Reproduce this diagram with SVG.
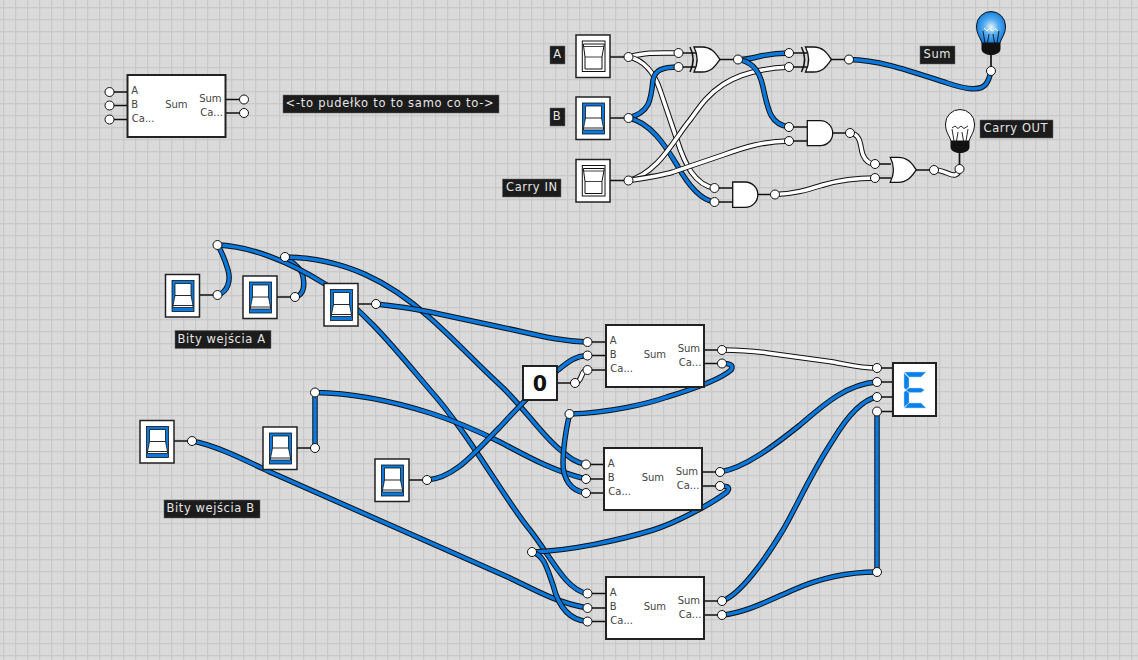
<svg xmlns="http://www.w3.org/2000/svg" width="1138" height="660" viewBox="0 0 1138 660">
<style>
text{font-family:"DejaVu Sans",sans-serif}
.lbl{fill:#e6e6e6;font-size:11.500px;letter-spacing:.6px}
.lb{fill:#1c1c1c;stroke:#666;stroke-width:.5}
.box{fill:#fff;stroke:#222;stroke-width:2}
.t{fill:#444;font-size:10px}
.w{fill:none;stroke-width:5.500;stroke:#111}
.b{fill:none;stroke-width:3.500;stroke:#0a78dc}
.g{fill:none;stroke-width:3.500;stroke:#fff}
.s{stroke:#111;stroke-width:1.700;fill:none}
.p{fill:#fff;stroke:#111;stroke-width:1}
.sw{fill:#fff;stroke:#222;stroke-width:1.500}
.gate{fill:#fff;stroke:#111;stroke-width:1.300}
.seg{fill:#0a80ea;stroke:#a8d2f5;stroke-width:.5}
</style>
<defs>
<pattern id="grid" x="3" y="7" width="12" height="12" patternUnits="userSpaceOnUse"><rect width="12" height="12" fill="#dadada"/><rect width="1.300" height="12" fill="#c9c9c9"/><rect width="12" height="1.300" fill="#c9c9c9"/></pattern>
<radialGradient id="glow" cx=".5" cy=".5" r=".55"><stop offset="0" stop-color="#e8f4ff"/><stop offset=".45" stop-color="#5aaef0"/><stop offset="1" stop-color="#0a78dc"/></radialGradient>
<g id="on"><rect width="34" height="42.500" class="sw"/><rect x="6.500" y="6" width="22" height="31" fill="#0a78dc" stroke="#111" stroke-width=".8"/><path d="M9.500 9H25.500V21L27.500 31V33H7.500V31L9.500 21Z" fill="#fff" stroke="#111" stroke-width=".8"/><path d="M9.500 21H25.500M7.500 31H27.500" stroke="#111" stroke-width=".9"/></g>
<g id="off"><rect width="34" height="42.500" class="sw"/><rect x="6.300" y="6" width="22.700" height="30.500" fill="#fff" stroke="#111" stroke-width="1"/><path d="M7.300 9H28.300L26 22V34H9V22Z" fill="#fff" stroke="#111" stroke-width="1"/><path d="M7.800 11.500H27.800M9 22H26" stroke="#111" stroke-width=".8"/></g>
<path id="xor" d="M4 0H12C22 0 26 7 30 12.500C26 18 22 25 12 25H4C8 17 8 8 4 0Z"/>
<path id="glass" d="M-9 17C-11 11 -14.500 8 -14.500 0A14.500 14.500 0 0 1 14.500 0C14.500 8 11 11 9 17Z" stroke="#111" stroke-width="1"/>
<path id="cap" d="M-9.500 17H9.500V23C9.500 27 4 29 0 29C-4 29 -9.500 27 -9.500 23Z" fill="#111"/>
<path id="fil" d="M-6 17L-8 5M-3.500 17L-2 8M3.500 17L2 8M6 17L8 5" stroke="#111" stroke-width=".9" fill="none"/>
<g id="add"><rect width="98" height="62" class="box"/><text x="3.700" y="19" class="t">A</text><text x="3.700" y="33" class="t">B</text><text x="4.300" y="47" class="t">Ca...</text><text x="37.700" y="32.700" class="t">Sum</text><text x="71.700" y="26.700" class="t">Sum</text><text x="72.700" y="40.700" class="t">Ca...</text></g>
</defs>
<rect width="1138" height="660" fill="url(#grid)"/>
<g id="connectors">
<g id="stubs" class="s">
<path d="M610 57H629M610 118H629M610 180.500H629M679 53H696M679 67H696M720 59.500H738M789 53H807M789 67H807M831 59.500H849M789 127H808M789 141H808M833 133H850M875 164H891M875 178H891M916 170H934M959.500 138V169M991 50V71M714.500 188H734M714.500 202H734M757 194.500H775"/>
<path d="M109.500 92H127M109.500 105.500H127M109.500 119.500H127M226 99.500H244M226 113H244"/>
<path d="M200 295H217.500M277 297H295M358 304H376M174 441H192M297 448H315M409 480H427"/>
<path d="M587.500 342H606M587.500 355.500H606M587.500 370H606M704 350H722M704 363.500H722M557 383H575"/>
<path d="M586 464.500H604M586 479H604M586 493H604M702 472H720M702 486H720"/>
<path d="M587.500 593.500H606M587.500 608H606M587.500 621.500H606M704 601H722M704 615H722"/>
<path d="M877 368H893M877 382H893M877 397H893M877 411.500H893"/>
</g>
<path class="w" d="M628.500 57C650 52 655 53 678.500 53"/><path class="g" d="M628.500 57C650 52 655 53 678.500 53"/>
<path class="w" d="M628.500 57C645 60 655 75 660 90L677 140C685 165 695 185 714.500 188"/><path class="g" d="M628.500 57C645 60 655 75 660 90L677 140C685 165 695 185 714.500 188"/>
<path class="w" d="M628.500 118C650 112 651 100 653 80C655 70 662 67 678.500 67"/><path class="b" d="M628.500 118C650 112 651 100 653 80C655 70 662 67 678.500 67"/>
<path class="w" d="M628.500 118C650 122 665 145 677 165C688 185 700 200 714.500 202"/><path class="b" d="M628.500 118C650 122 665 145 677 165C688 185 700 200 714.500 202"/>
<path class="w" d="M628.500 180.500C640 178 650 170 657 163C670 150 680 132 690 120C705 100 720 70 789 67"/><path class="g" d="M628.500 180.500C640 178 650 170 657 163C670 150 680 132 690 120C705 100 720 70 789 67"/>
<path class="w" d="M628.500 180.500C645 178 660 176 673 172L723 155C745 147 765 141 789 141"/><path class="g" d="M628.500 180.500C645 178 660 176 673 172L723 155C745 147 765 141 789 141"/>
<path class="w" d="M738 59.500C755 60 760 53 789 53"/><path class="b" d="M738 59.500C755 60 760 53 789 53"/>
<path class="w" d="M738 59.500C750 61 759 68 763 87C768 110 770 124 789 127"/><path class="b" d="M738 59.500C750 61 759 68 763 87C768 110 770 124 789 127"/>
<path class="w" d="M849 59.500C880 60 910 71 947 83C965 89 980 92 986 84C989 80 990 76 991 71"/><path class="b" d="M849 59.500C880 60 910 71 947 83C965 89 980 92 986 84C989 80 990 76 991 71"/>
<path class="w" d="M850 133C862 134 860 148 863 155C866 162 870 164 875 164"/><path class="g" d="M850 133C862 134 860 148 863 155C866 162 870 164 875 164"/>
<path class="w" d="M775 194.500C795 194 810 189 823 185C840 180 860 178 875 178"/><path class="g" d="M775 194.500C795 194 810 189 823 185C840 180 860 178 875 178"/>
<path class="w" d="M934 170C945 170 950 176 955 175C958 174 959 172 959.500 169"/><path class="g" d="M934 170C945 170 950 176 955 175C958 174 959 172 959.500 169"/>
<path class="w" d="M217.500 295C228 292 231 280 228 270C225 260 222 252 217.500 245"/><path class="b" d="M217.500 295C228 292 231 280 228 270C225 260 222 252 217.500 245"/>
<path class="w" d="M295 297C305 295 305 283 302 273C299 266 292 262 285 257"/><path class="b" d="M295 297C305 295 305 283 302 273C299 266 292 262 285 257"/>
<path class="w" d="M217.500 245C250 246 290 262 325 284C365 310 400 355 430 390C470 435 505 500 530 530C550 555 565 590 587.500 593.500"/><path class="b" d="M217.500 245C250 246 290 262 325 284C365 310 400 355 430 390C470 435 505 500 530 530C550 555 565 590 587.500 593.500"/>
<path class="w" d="M285 257C345 258 390 282 430 318C455 340 475 362 500 385C525 408 545 440 563 452C570 458 575 462 586 464.500"/><path class="b" d="M285 257C345 258 390 282 430 318C455 340 475 362 500 385C525 408 545 440 563 452C570 458 575 462 586 464.500"/>
<path class="w" d="M376 304C395 306 415 309 430 312L500 327C530 333 555 341 587.500 342"/><path class="b" d="M376 304C395 306 415 309 430 312L500 327C530 333 555 341 587.500 342"/>
<path class="w" d="M192 441C215 445 245 460 270 472L510 578C535 590 555 602 587.500 608"/><path class="b" d="M192 441C215 445 245 460 270 472L510 578C535 590 555 602 587.500 608"/>
<path class="w" d="M315 448V392.500"/><path class="b" d="M315 448V392.500"/>
<path class="w" d="M315 392.500C355 393 395 402 430 413C455 421 480 432 500 442C525 455 550 470 586 479"/><path class="b" d="M315 392.500C355 393 395 402 430 413C455 421 480 432 500 442C525 455 550 470 586 479"/>
<path class="w" d="M427 480C455 478 475 452 500 427C520 405 540 385 558 370C568 362 575 356 587.500 355.500"/><path class="b" d="M427 480C455 478 475 452 500 427C520 405 540 385 558 370C568 362 575 356 587.500 355.500"/>
<path class="w" d="M575 383C583 382 580 370 587.500 370"/><path class="g" d="M575 383C583 382 580 370 587.500 370"/>
<path class="w" d="M569.500 414C610 413 650 403 667 397C690 390 720 380 731 370C734 365 730 363 722 363.500"/><path class="b" d="M569.500 414C610 413 650 403 667 397C690 390 720 380 731 370C734 365 730 363 722 363.500"/>
<path class="w" d="M569.500 414C566 430 563 448 563 463C563 478 570 491 586 493"/><path class="b" d="M569.500 414C566 430 563 448 563 463C563 478 570 491 586 493"/>
<path class="w" d="M532 552C570 551 620 540 653 530C675 523 710 505 727 492C731 487 727 486 720 486"/><path class="b" d="M532 552C570 551 620 540 653 530C675 523 710 505 727 492C731 487 727 486 720 486"/>
<path class="w" d="M532 552C545 555 548 572 553 585C558 605 568 620 587.500 621.500"/><path class="b" d="M532 552C545 555 548 572 553 585C558 605 568 620 587.500 621.500"/>
<path class="w" d="M722 350C740 350 760 352 767 353L833 362C850 365 860 368 877 368"/><path class="g" d="M722 350C740 350 760 352 767 353L833 362C850 365 860 368 877 368"/>
<path class="w" d="M720 472C745 468 775 445 800 425C820 408 845 384 877 382"/><path class="b" d="M720 472C745 468 775 445 800 425C820 408 845 384 877 382"/>
<path class="w" d="M722 601C740 595 765 560 783 530C795 510 810 475 833 440C845 420 860 400 877 397"/><path class="b" d="M722 601C740 595 765 560 783 530C795 510 810 475 833 440C845 420 860 400 877 397"/>
<path class="w" d="M722 615C745 613 770 600 793 590C820 578 850 572 877 572"/><path class="b" d="M722 615C745 613 770 600 793 590C820 578 850 572 877 572"/>
<path class="w" d="M877 572V411.500"/><path class="b" d="M877 572V411.500"/>
</g>
<g id="sw-a"><use href="#off" x="576" y="35"/></g>
<g id="sw-b"><use href="#on" x="576" y="97"/></g>
<g id="sw-c"><use href="#off" x="576" y="159.500"/></g>
<g id="sw1"><use href="#on" x="165.500" y="274.500"/></g>
<g id="sw2"><use href="#on" x="243" y="276"/></g>
<g id="sw3"><use href="#on" x="324" y="283.500"/></g>
<g id="sw4"><use href="#on" x="140" y="420.500"/></g>
<g id="sw5"><use href="#on" x="263" y="427"/></g>
<g id="sw6"><use href="#on" x="375" y="459"/></g>
<g id="xor1" class="gate"><use href="#xor" x="690" y="47"/><path d="M690 47C694 55 694 64 690 72" fill="none" stroke="#111" stroke-width="1.500"/></g>
<g id="xor2" class="gate"><use href="#xor" x="801.500" y="47"/><path d="M801.500 47C805.500 55 805.500 64 801.500 72" fill="none" stroke="#111" stroke-width="1.500"/></g>
<g id="and1" class="gate"><path d="M807.300 120.700H820.200A12.500 12.500 0 0 1 820.200 145.700H807.300Z"/></g>
<g id="and2" class="gate"><path d="M732.700 182H745.200A12.650 12.650 0 0 1 745.200 207.300H732.700Z"/></g>
<g id="or1" class="gate"><use href="#xor" x="886.300" y="157.300"/></g>
<g id="bulb-sum" transform="translate(991 26)"><use href="#glass" fill="url(#glow)"/><use href="#fil"/><path d="M-7 2L-4 5L-1.500 2.500L1.500 5L4 2.500L7 5" stroke="#fff" stroke-width="1" fill="none"/><use href="#cap"/></g>
<g id="bulb-carry" transform="translate(960 124)"><use href="#glass" fill="#fff"/><use href="#fil"/><path d="M-8 4L-5 2L-2 4.500L1 2L4 4.500L8 2" stroke="#111" stroke-width=".9" fill="none"/><use href="#cap"/></g>
<g id="half-adder-icon"><use href="#add" x="127.500" y="75"/></g>
<g id="adder1"><use href="#add" x="606" y="325"/></g>
<g id="adder2"><use href="#add" x="604" y="448"/></g>
<g id="adder3"><use href="#add" x="606" y="577"/></g>
<g id="const0"><rect x="523" y="366" width="34" height="34" class="box"/><text x="540" y="390.500" text-anchor="middle" font-size="20.500" font-weight="bold" fill="#111">0</text></g>
<g id="display"><rect x="893" y="363" width="43" height="53" class="box"/><polygon class="seg" points="904.500,372 926,372 921,377 909,377"/><polygon class="seg" points="904,373 909,378 909,387 906,389.500 904,388"/><polygon class="seg" points="906,390 909,388 921,388 924.500,390 921,392.500 909,392.500"/><polygon class="seg" points="904,392 906,390.500 909,393 909,403 904,407"/><polygon class="seg" points="909,403 921,403 926,408 904.500,408"/></g>
<g id="labels">
<rect x="550" y="46" width="15" height="18" class="lb"/><text x="557.500" y="58" text-anchor="middle" class="lbl">A</text>
<rect x="550" y="108" width="15" height="18" class="lb"/><text x="557" y="120" text-anchor="middle" class="lbl">B</text>
<rect x="502.500" y="179" width="58.500" height="18" class="lb"/><text x="506" y="191" class="lbl">Carry IN</text>
<rect x="920" y="46" width="35" height="18" class="lb"/><text x="923.500" y="58" class="lbl">Sum</text>
<rect x="980" y="120" width="73" height="18" class="lb"/><text x="983.500" y="132" class="lbl">Carry OUT</text>
<rect x="283" y="95" width="216" height="18" class="lb"/><text x="285.500" y="107" class="lbl" style="letter-spacing:.74px">&lt;-to pudełko to to samo co to-&gt;</text>
<rect x="175" y="330.500" width="96" height="18" class="lb"/><text x="177.500" y="342.500" class="lbl">Bity wejścia A</text>
<rect x="164" y="500" width="96" height="18" class="lb"/><text x="166.500" y="512" class="lbl">Bity wejścia B</text>
</g>
<g id="pins" class="p">
<circle cx="628.500" cy="57" r="4.500"/><circle cx="628.500" cy="118" r="4.500"/><circle cx="628.500" cy="180.500" r="4.500"/><circle cx="678.500" cy="53" r="4.500"/><circle cx="678.500" cy="67" r="4.500"/><circle cx="738" cy="59.500" r="4.500"/><circle cx="789" cy="53" r="4.500"/><circle cx="789" cy="67" r="4.500"/><circle cx="849" cy="59.500" r="4.500"/><circle cx="789" cy="127" r="4.500"/><circle cx="789" cy="141" r="4.500"/><circle cx="850" cy="133" r="4.500"/><circle cx="875" cy="164" r="4.500"/><circle cx="875" cy="178" r="4.500"/><circle cx="934" cy="170" r="4.500"/><circle cx="959.500" cy="169" r="4.500"/><circle cx="991" cy="71" r="4.500"/><circle cx="714.500" cy="188" r="4.500"/><circle cx="714.500" cy="202" r="4.500"/><circle cx="775" cy="194.500" r="4.500"/>
<circle cx="109.500" cy="92" r="4.500"/><circle cx="109.500" cy="105.500" r="4.500"/><circle cx="109.500" cy="119.500" r="4.500"/><circle cx="244" cy="99.500" r="4.500"/><circle cx="244" cy="113" r="4.500"/>
<circle cx="217.500" cy="295" r="4.500"/><circle cx="295" cy="297" r="4.500"/><circle cx="376" cy="304" r="4.500"/><circle cx="192" cy="441" r="4.500"/><circle cx="315" cy="448" r="4.500"/><circle cx="427" cy="480" r="4.500"/><circle cx="217.500" cy="245" r="4.500"/><circle cx="285" cy="257" r="4.500"/><circle cx="315" cy="392.500" r="4.500"/>
<circle cx="587.500" cy="342" r="4.500"/><circle cx="587.500" cy="355.500" r="4.500"/><circle cx="587.500" cy="370" r="4.500"/><circle cx="722" cy="350" r="4.500"/><circle cx="722" cy="363.500" r="4.500"/><circle cx="575" cy="383" r="4.500"/>
<circle cx="586" cy="464.500" r="4.500"/><circle cx="586" cy="479" r="4.500"/><circle cx="586" cy="493" r="4.500"/><circle cx="720" cy="472" r="4.500"/><circle cx="720" cy="486" r="4.500"/>
<circle cx="587.500" cy="593.500" r="4.500"/><circle cx="587.500" cy="608" r="4.500"/><circle cx="587.500" cy="621.500" r="4.500"/><circle cx="722" cy="601" r="4.500"/><circle cx="722" cy="615" r="4.500"/>
<circle cx="569.500" cy="414" r="4.500"/><circle cx="532" cy="552" r="4.500"/><circle cx="877" cy="368" r="4.500"/><circle cx="877" cy="382" r="4.500"/><circle cx="877" cy="397" r="4.500"/><circle cx="877" cy="411.500" r="4.500"/><circle cx="877" cy="572" r="4.500"/>
</g>
</svg>
